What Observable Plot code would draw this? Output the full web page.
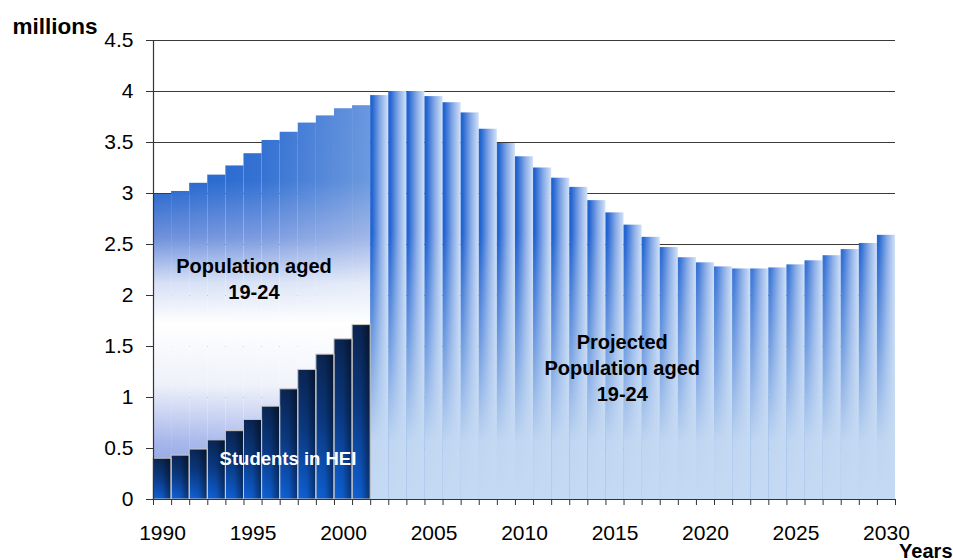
<!DOCTYPE html>
<html><head><meta charset="utf-8">
<script src="https://cdn.jsdelivr.net/npm/d3@7"></script>
<script src="https://cdn.jsdelivr.net/npm/@observablehq/plot@0.6"></script>
<style>
html,body{margin:0;padding:0;background:#fff;}
#chart{position:relative;width:953px;height:560px;}
svg{display:block;}
</style></head><body><div id="chart"></div>
<script>
// ---- data (millions) ----
const years = [1990,1991,1992,1993,1994,1995,1996,1997,1998,1999,2000,2001,2002,2003,2004,2005,2006,2007,2008,2009,2010,2011,2012,2013,2014,2015,2016,2017,2018,2019,2020,2021,2022,2023,2024,2025,2026,2027,2028,2029,2030];
const population = [2.99,3.02,3.10,3.18,3.27,3.39,3.52,3.60,3.69,3.76,3.83,3.86,3.96,4.00,4.00,3.95,3.89,3.79,3.63,3.49,3.36,3.25,3.15,3.06,2.93,2.81,2.69,2.57,2.47,2.37,2.32,2.28,2.26,2.26,2.27,2.30,2.34,2.39,2.45,2.51,2.59];
const studentYears = [1990,1991,1992,1993,1994,1995,1996,1997,1998,1999,2000,2001];
const students = [0.40,0.43,0.49,0.58,0.67,0.78,0.91,1.08,1.27,1.42,1.57,1.71];
const projectionStart = 2002;
const yTicks = [0,0.5,1,1.5,2,2.5,3,3.5,4,4.5];
const xLabelYears = [1990,1995,2000,2005,2010,2015,2020,2025,2030];
const xTickYears = [1990,1991,1992,1993,1994,1995,1996,1997,1998,1999,2000,2001,2002,2003,2004,2005,2006,2007,2008,2009,2010,2011,2012,2013,2014,2015,2016,2017,2018,2019,2020,2021,2022,2023,2024,2025,2026,2027,2028,2029,2030,2031];

const popData = years.map((year, i) => ({year, value: population[i]}));
const observed = popData.filter(d => d.year < projectionStart);
const projected = popData.filter(d => d.year >= projectionStart);
const stuData = studentYears.map((year, i) => ({year, value: students[i]}));

// annotation anchors (data coordinates, last-line baseline)
const darkLabels = [
  {x: 1995.55, y: 1.968, text: "Population aged\n19-24"},
  {x: 2015.9, y: 0.97, text: "Projected\nPopulation aged\n19-24"}
];
const whiteLabels = [{x: 1997.43, y: 0.343, text: "Students in HEI"}];

const FONT = "'Liberation Sans', Arial, Helvetica, sans-serif";
const next = d => d.year + 1;

const chart = Plot.plot({
  width: 953, height: 560,
  marginLeft: 153, marginRight: 58, marginTop: 40, marginBottom: 61,
  style: {fontFamily: FONT, color: "#000", background: "#fff"},
  x: {type: "linear", domain: [1990, 2031], axis: null},
  y: {domain: [0, 4.5], axis: null},
  marks: [
    Plot.gridY(yTicks.filter(d => d > 0), {stroke: "#3a3a3a", strokeOpacity: 1, strokeWidth: 1.2}),
    Plot.rect(observed, {x1: "year", x2: next, y1: 0, y2: "value", fill: "url(#histGrad)"}),
    Plot.rect(observed, {x1: "year", x2: next, y1: 0, y2: "value", fill: "url(#histSide)"}),
    Plot.rect(projected, {x1: "year", x2: next, y1: 0, y2: "value", fill: "url(#projH)"}),
    Plot.rect(projected, {x1: "year", x2: next, y1: 0, y2: "value", fill: "url(#projFade)"}),
    Plot.rect(stuData, {x1: "year", x2: next, y1: 0, y2: "value", fill: "url(#stuV)"}),
    Plot.rect(stuData, {x1: "year", x2: next, y1: 0, y2: "value", fill: "url(#stuH)", stroke: "#cdc9c2", strokeWidth: 1}),
    Plot.ruleX([1990], {stroke: "#333", strokeWidth: 1.2}),
    Plot.ruleY([0], {stroke: "#333", strokeWidth: 1.2}),
    Plot.axisY(yTicks, {anchor: "left", label: null, tickSize: 7, tickPadding: 13, fontSize: 21, tickFormat: d => String(d), stroke: "#333"}),
    Plot.axisX(xTickYears, {anchor: "bottom", label: null, tickSize: 6, tickFormat: () => "", stroke: "#333"}),
    Plot.text(xLabelYears, {x: d => d + 0.5, frameAnchor: "bottom", dy: 40, lineAnchor: "bottom", text: d => String(d), fontSize: 21, fill: "#000"}),
    Plot.text(darkLabels, {x: "x", y: "y", text: "text", lineAnchor: "bottom", lineHeight: 1.3, fontSize: 20, fontWeight: "bold", fill: "#000"}),
    Plot.text(whiteLabels, {x: "x", y: "y", text: "text", lineAnchor: "bottom", fontSize: 18.5, fontWeight: "bold", fill: "#fff"}),
    Plot.text(["millions"], {frameAnchor: "top-left", textAnchor: "start", lineAnchor: "bottom", dx: -141, dy: -7, fontSize: 22.5, fontWeight: "bold", fill: "#000"}),
    Plot.text(["Years"], {frameAnchor: "bottom-right", textAnchor: "end", lineAnchor: "bottom", dx: 57, dy: 58, fontSize: 20, fontWeight: "bold", fill: "#000"})
  ]
});

// gradient definitions
const ys = chart.scale("y"), xs = chart.scale("x");
const yTop = ys.apply(4), yBot = ys.apply(0);
const defs = d3.select(chart).insert("defs", ":first-child");
function grad(id, attrs, stops) {
  const g = defs.append("linearGradient").attr("id", id);
  for (const k in attrs) g.attr(k, attrs[k]);
  for (const [o, c, a] of stops) g.append("stop").attr("offset", o).attr("stop-color", c).attr("stop-opacity", a == null ? 1 : a);
}
grad("histGrad", {gradientUnits: "userSpaceOnUse", x1: 0, x2: 0, y1: yTop, y2: yBot}, [
  [0, "#1a5fcd"], [0.22, "#1f63cd"], [0.36, "#6f91dc"], [0.47, "#d6e0f5"], [0.57, "#ffffff"],
  [0.72, "#eef1fa"], [0.86, "#a6b6ea"], [1, "#7a92de"]
]);
// lighten the lower-right of the observed block (reference fades toward white on the right)
grad("histSide", {gradientUnits: "userSpaceOnUse", x1: xs.apply(1990), x2: xs.apply(2002), y1: 0, y2: 0}, [
  [0, "#ffffff", 0], [0.5, "#ffffff", 0.1], [1, "#ffffff", 0.35]
]);
grad("projH", {x1: 0, x2: 1, y1: 0, y2: 0}, [
  [0, "#1c60d0"], [0.12, "#2566d2"], [0.55, "#84a8e6"], [1, "#d2e2f7"]
]);
grad("projFade", {gradientUnits: "userSpaceOnUse", x1: 0, x2: 0, y1: yTop, y2: yBot}, [
  [0, "#c4d9f2", 0], [0.35, "#c4d9f2", 0], [0.62, "#c4d9f2", 0.5], [0.86, "#c4d9f2", 0.97], [1, "#c4d9f2", 1]
]);
grad("stuV", {x1: 0, x2: 0, y1: 0, y2: 1}, [
  [0, "#0a2654"], [0.45, "#0b3a84"], [1, "#0f63dc"]
]);
grad("stuH", {x1: 0, x2: 1, y1: 0, y2: 0}, [
  [0, "#000", 0], [0.5, "#000", 0.08], [1, "#000", 0.5]
]);

document.getElementById("chart").appendChild(chart);
</script>
</body></html>
